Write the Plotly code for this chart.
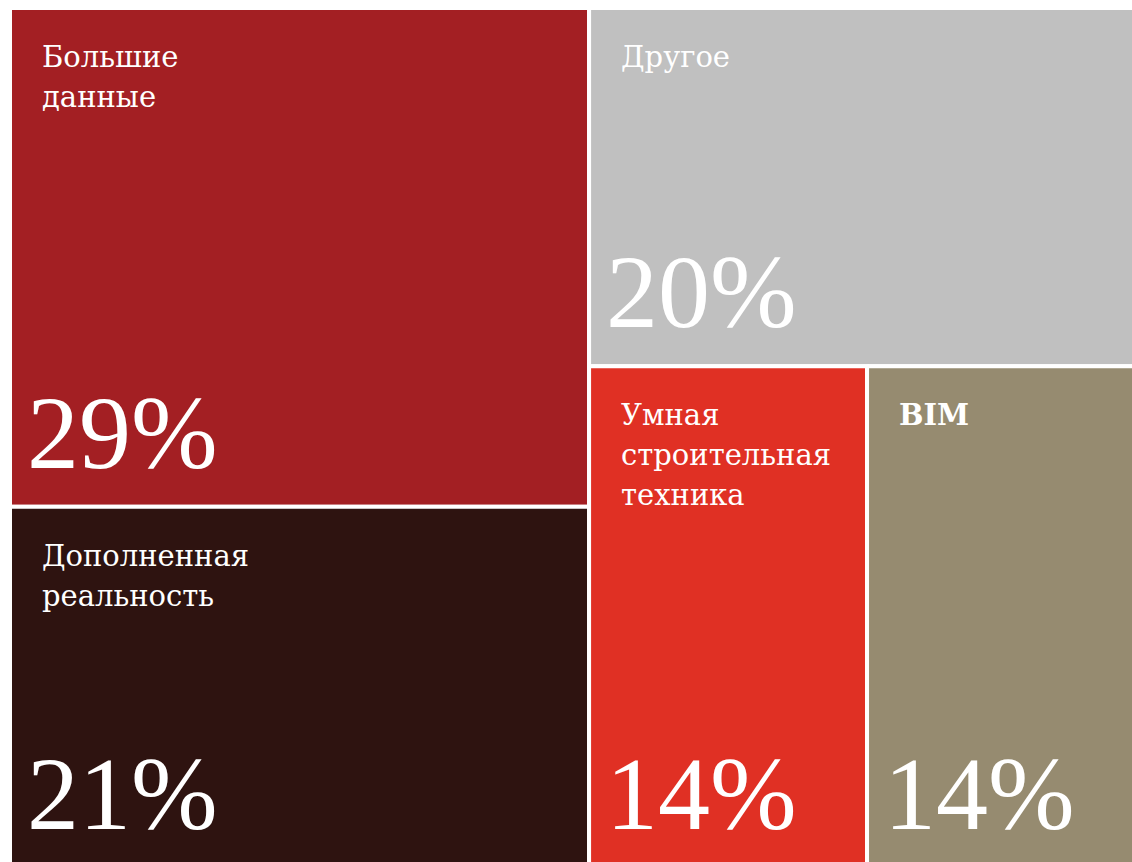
import plotly.graph_objects as go

# ---- data ----
labels = ["Большие данные", "Дополненная реальность", "Другое", "Умная строительная техника", "BIM"]
label_lines = [["Большие", "данные"], ["Дополненная", "реальность"], ["Другое"],
               ["Умная", "строительная", "техника"], ["BIM"]]
values = [29, 21, 20, 14, 14]
colors = ["#A31F23", "#2E1310", "#C0C0C0", "#E03024", "#968B70"]
label_bold = [False, False, False, False, True]

# ---- layout of tiles (squarified arrangement derived from values) ----
total = sum(values)
big, ar, other, smart, bim = values
left_w = (big + ar) / total
big_h = big / (big + ar)
other_h = other / (other + smart + bim)
smart_w = (1 - left_w) * smart / (smart + bim)

rects = [
    (0, left_w, 0, big_h),
    (0, left_w, big_h, 1),
    (left_w, 1, 0, other_h),
    (left_w, left_w + smart_w, other_h, 1),
    (left_w + smart_w, 1, other_h, 1),
]

fig = go.Figure()
for (x0, x1, y0, y1), c, name in zip(rects, colors, labels):
    fig.add_trace(go.Scatter(
        x=[x0, x1, x1, x0, x0], y=[y0, y0, y1, y1, y0],
        mode="lines", fill="toself", fillcolor=c,
        line=dict(color="white", width=4),
        name=name, hoverinfo="name", showlegend=False,
    ))

annotations = []
LABEL_FONT = "DejaVu Serif"
PCT_FONT = "Liberation Serif"
for (x0, x1, y0, y1), lines, v, b in zip(rects, label_lines, values, label_bold):
    for i, ln in enumerate(lines):
        annotations.append(dict(
            x=x0, y=y0, xref="x", yref="y", xanchor="left", yanchor="top",
            text=f"<b>{ln}</b>" if b else ln, showarrow=False,
            font=dict(family=LABEL_FONT, size=29, color="white"),
            xshift=30, yshift=-30 - 40 * i,
        ))
    annotations.append(dict(
        x=x0, y=y1, xref="x", yref="y", xanchor="left", yanchor="bottom",
        text=f"{v}%", showarrow=False,
        font=dict(family=PCT_FONT, size=104, color="white"),
        xshift=15, yshift=15,
    ))

# the chart is larger than the window; the window crops its right/bottom edge
fig.update_layout(
    width=1145, height=868,
    margin=dict(l=10, r=0, t=8, b=0),
    paper_bgcolor="white", plot_bgcolor="white",
    xaxis=dict(range=[0, 1], visible=False, fixedrange=True),
    yaxis=dict(range=[1, 0], visible=False, fixedrange=True),
    annotations=annotations,
    showlegend=False,
)
fig.write_html(
    "out.html",
    config={"displayModeBar": False},
    post_script="document.body.style.margin='0';document.body.style.overflow='hidden';"
                "document.documentElement.style.overflow='hidden';",
)
